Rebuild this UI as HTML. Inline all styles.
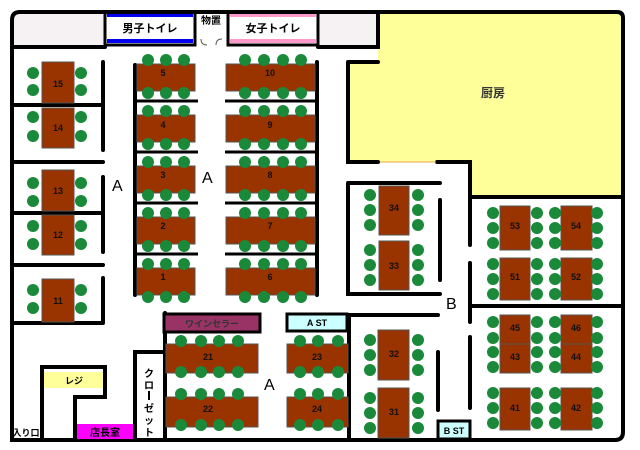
<!DOCTYPE html>
<html><head><meta charset="utf-8"><style>body{margin:0;background:#fff}svg{display:block}text{font-family:"Liberation Sans","Noto Sans CJK JP",sans-serif}</style></head><body>
<svg width="640" height="450" viewBox="0 0 640 450" xmlns="http://www.w3.org/2000/svg">
<rect width="640" height="450" fill="#fff"/>
<rect x="12" y="12" width="93" height="34" fill="#f6f2f4"/>
<rect x="320" y="12" width="58" height="34" fill="#f6f2f4"/>
<path d="M378 12 H617 Q623 12 623 18 V197 H470 V162 H349 V62 H378 Z" fill="#ffff99"/>
<rect x="105" y="12" width="90" height="33" fill="#fff" stroke="#000" stroke-width="3"/>
<rect x="107" y="13" width="86" height="4" fill="#0000ee"/><rect x="107" y="39" width="86" height="4" fill="#0000ee"/>
<rect x="228" y="12" width="90" height="33" fill="#fff" stroke="#000" stroke-width="3"/>
<rect x="230" y="13" width="86" height="4" fill="#ff99cc"/><rect x="230" y="39" width="86" height="4" fill="#ff99cc"/>
<text x="150" y="32" font-size="11" font-weight="bold" text-anchor="middle">男子トイレ</text>
<text x="273" y="32" font-size="11" font-weight="bold" text-anchor="middle">女子トイレ</text>
<text x="211" y="24" font-size="10" font-weight="bold" text-anchor="middle">物置</text>
<path d="M201 39 q0 6 6 6 M222 39 q-6 0 -6 6" fill="none" stroke="#555" stroke-width="1"/>
<text x="493" y="97" font-size="12" font-weight="bold" text-anchor="middle" fill="#333">厨房</text>
<g stroke="#000" stroke-width="4" fill="none" stroke-linecap="round">
<path d="M40 440 H12 V20 Q12 12 20 12 H617 Q623 12 623 18 V432 Q623 440 615 440 H40"/>
<path d="M12 47 H105 M318 47 H378 V12 M348 62 H378 M348 62 V162 H378 M437 162 H470 V245 M470 263 V322 M470 337 V408 M470 197 H623 M470 306 H623"/>
<path d="M12 105 H103 M12 162 H103 M12 213 H103 M12 265 H103 M12 323 H103 M103 62 V150 M103 177 V252 M103 278 V322"/>
<path d="M135 65 V295 M317 62 V295"/>
<path d="M348 183 H440 M348 183 V294 H440 M440 200 V280 M349 315 H438 M349 315 V440 M438 352 V410"/>
<path d="M42 440 V367 H105 V397 H75 V440 M135 440 V352 H163 M165 440 V313"/>
</g>
<g stroke="#000" stroke-width="3">
<path d="M137 101 H198 M137 152 H198 M137 203 H198 M137 254 H198 M225 101 H315 M225 152 H315 M225 203 H315 M225 254 H315"/>
</g>
<line x1="380" y1="162" x2="436" y2="162" stroke="#f0a050" stroke-width="1"/>
<rect x="164" y="314" width="96" height="18" fill="#993366" stroke="#000" stroke-width="3"/>
<text x="212" y="327" font-size="9" font-weight="bold" text-anchor="middle" fill="#333">ワインセラー</text>
<rect x="287" y="314" width="60" height="17" fill="#ccffff" stroke="#000" stroke-width="3"/>
<text x="317" y="326" font-size="9" font-weight="bold" text-anchor="middle">A ST</text>
<rect x="438" y="421" width="32" height="18" fill="#ccffff" stroke="#000" stroke-width="3"/>
<text x="454" y="434" font-size="9" font-weight="bold" text-anchor="middle">B ST</text>
<rect x="44" y="372" width="59" height="16" fill="#ffff99"/>
<text x="74" y="384" font-size="9" font-weight="bold" text-anchor="middle">レジ</text>
<rect x="77" y="424" width="56" height="15" fill="#ff00ff"/>
<text x="105" y="436" font-size="10" font-weight="bold" text-anchor="middle">店長室</text>
<text x="26" y="436" font-size="9" font-weight="bold" text-anchor="middle">入り口</text>
<g font-size="10" font-weight="bold" text-anchor="middle">
<text x="149" y="377">ク</text><text x="149" y="389">ロ</text><text x="149" y="412">ゼ</text><text x="149" y="424">ッ</text><text x="149" y="436">ト</text>
</g>
<rect x="148" y="391" width="2" height="9" fill="#000"/>
<g font-size="16"><text x="112" y="191">A</text><text x="202" y="183">A</text><text x="264" y="390">A</text><text x="446" y="309">B</text></g>
<g fill="#993300" stroke="#555" stroke-width="1">
<rect x="42" y="62" width="32" height="41"/><rect x="42" y="108" width="32" height="40"/>
<rect x="42" y="170" width="32" height="41"/><rect x="42" y="215" width="32" height="40"/><rect x="42" y="279" width="32" height="43"/>
<rect x="137" y="64" width="58" height="27"/><rect x="137" y="115" width="58" height="27"/><rect x="137" y="166" width="58" height="27"/><rect x="137" y="217" width="58" height="27"/><rect x="137" y="268" width="58" height="27"/>
<rect x="226" y="64" width="89" height="27"/><rect x="226" y="115" width="89" height="27"/><rect x="226" y="166" width="89" height="27"/><rect x="226" y="217" width="89" height="27"/><rect x="226" y="268" width="89" height="27"/>
<rect x="166" y="344" width="92" height="29"/><rect x="166" y="397" width="92" height="30"/>
<rect x="287" y="344" width="61" height="29"/><rect x="287" y="397" width="61" height="30"/>
<rect x="379" y="186" width="30" height="49"/><rect x="379" y="241" width="30" height="49"/>
<rect x="378" y="330" width="31" height="50"/><rect x="378" y="388" width="31" height="50"/>
<rect x="500" y="206" width="30" height="44"/><rect x="561" y="206" width="31" height="44"/>
<rect x="500" y="258" width="30" height="42"/><rect x="561" y="258" width="31" height="42"/>
<rect x="500" y="315" width="30" height="29"/><rect x="561" y="315" width="31" height="29"/>
<rect x="500" y="344" width="30" height="29"/><rect x="561" y="344" width="31" height="29"/>
<rect x="500" y="388" width="30" height="42"/><rect x="561" y="388" width="31" height="42"/>
</g>
<g fill="#1a8a3a">
<circle cx="33" cy="73" r="6"/><circle cx="33" cy="90" r="6"/><circle cx="81" cy="73" r="6"/><circle cx="81" cy="90" r="6"/>
<circle cx="33" cy="117" r="6"/><circle cx="33" cy="136" r="6"/><circle cx="81" cy="117" r="6"/><circle cx="81" cy="136" r="6"/>
<circle cx="33" cy="183" r="6"/><circle cx="33" cy="201" r="6"/><circle cx="81" cy="183" r="6"/><circle cx="81" cy="201" r="6"/>
<circle cx="33" cy="226" r="6"/><circle cx="33" cy="244" r="6"/><circle cx="81" cy="226" r="6"/><circle cx="81" cy="244" r="6"/>
<circle cx="33" cy="290" r="6"/><circle cx="33" cy="308" r="6"/><circle cx="81" cy="290" r="6"/><circle cx="81" cy="308" r="6"/>
</g>
<g fill="#1a8a3a" id="c">
<circle cx="148" cy="60" r="6"/><circle cx="166" cy="60" r="6"/><circle cx="184" cy="60" r="6"/>
<circle cx="148" cy="93" r="6"/><circle cx="166" cy="93" r="6"/><circle cx="184" cy="93" r="6"/>
<circle cx="245" cy="60" r="6"/><circle cx="264" cy="60" r="6"/><circle cx="283" cy="60" r="6"/><circle cx="301" cy="60" r="6"/>
<circle cx="245" cy="93" r="6"/><circle cx="264" cy="93" r="6"/><circle cx="283" cy="93" r="6"/><circle cx="301" cy="93" r="6"/>
</g>
<use href="#c" y="51"/><use href="#c" y="102"/><use href="#c" y="153"/><use href="#c" y="204"/>
<g fill="#1a8a3a" id="d">
<circle cx="181" cy="341" r="6"/><circle cx="201" cy="341" r="6"/><circle cx="219" cy="341" r="6"/><circle cx="238" cy="341" r="6"/>
<circle cx="181" cy="372" r="6"/><circle cx="201" cy="372" r="6"/><circle cx="219" cy="372" r="6"/><circle cx="238" cy="372" r="6"/>
<circle cx="300" cy="341" r="6"/><circle cx="318" cy="341" r="6"/><circle cx="338" cy="341" r="6"/>
<circle cx="300" cy="372" r="6"/><circle cx="318" cy="372" r="6"/><circle cx="338" cy="372" r="6"/>
</g>
<use href="#d" y="53"/>
<g fill="#1a8a3a" id="e">
<circle cx="370" cy="195" r="6"/><circle cx="370" cy="210" r="6"/><circle cx="370" cy="225" r="6"/>
<circle cx="418" cy="195" r="6"/><circle cx="418" cy="210" r="6"/><circle cx="418" cy="225" r="6"/>
</g>
<use href="#e" y="55"/><use href="#e" y="145"/><use href="#e" y="203"/>
<g fill="#1a8a3a" id="f">
<circle cx="493" cy="213" r="6"/><circle cx="493" cy="228" r="6"/><circle cx="493" cy="243" r="6"/>
<circle cx="537" cy="213" r="6"/><circle cx="537" cy="228" r="6"/><circle cx="537" cy="243" r="6"/>
<circle cx="555" cy="213" r="6"/><circle cx="555" cy="228" r="6"/><circle cx="555" cy="243" r="6"/>
<circle cx="597" cy="213" r="6"/><circle cx="597" cy="228" r="6"/><circle cx="597" cy="243" r="6"/>
</g>
<use href="#f" y="51"/><use href="#f" y="180"/>
<g fill="#1a8a3a">
<circle cx="493" cy="322" r="6"/><circle cx="493" cy="338" r="6"/><circle cx="493" cy="352" r="6"/><circle cx="493" cy="367" r="6"/>
<circle cx="537" cy="322" r="6"/><circle cx="537" cy="338" r="6"/><circle cx="537" cy="352" r="6"/><circle cx="537" cy="367" r="6"/>
<circle cx="555" cy="322" r="6"/><circle cx="555" cy="338" r="6"/><circle cx="555" cy="352" r="6"/><circle cx="555" cy="367" r="6"/>
<circle cx="597" cy="322" r="6"/><circle cx="597" cy="338" r="6"/><circle cx="597" cy="352" r="6"/><circle cx="597" cy="367" r="6"/>
</g>
<g font-size="9" font-weight="bold" text-anchor="middle" fill="#111">
<text x="58" y="87">15</text><text x="58" y="131">14</text><text x="58" y="194">13</text><text x="58" y="238">12</text><text x="58" y="304">11</text>
<text x="163" y="76">5</text><text x="163" y="128">4</text><text x="163" y="178">3</text><text x="163" y="229">2</text><text x="163" y="280">1</text>
<text x="270" y="76">10</text><text x="270" y="128">9</text><text x="270" y="178">8</text><text x="270" y="229">7</text><text x="270" y="280">6</text>
<text x="208" y="360">21</text><text x="208" y="412">22</text><text x="317" y="360">23</text><text x="317" y="412">24</text>
<text x="394" y="211">34</text><text x="394" y="269">33</text><text x="394" y="357">32</text><text x="394" y="415">31</text>
<text x="515" y="229">53</text><text x="576" y="229">54</text><text x="515" y="280">51</text><text x="576" y="280">52</text>
<text x="515" y="331">45</text><text x="576" y="331">46</text><text x="515" y="360">43</text><text x="576" y="360">44</text>
<text x="515" y="411">41</text><text x="576" y="411">42</text>
</g>
</svg>
</body></html>
